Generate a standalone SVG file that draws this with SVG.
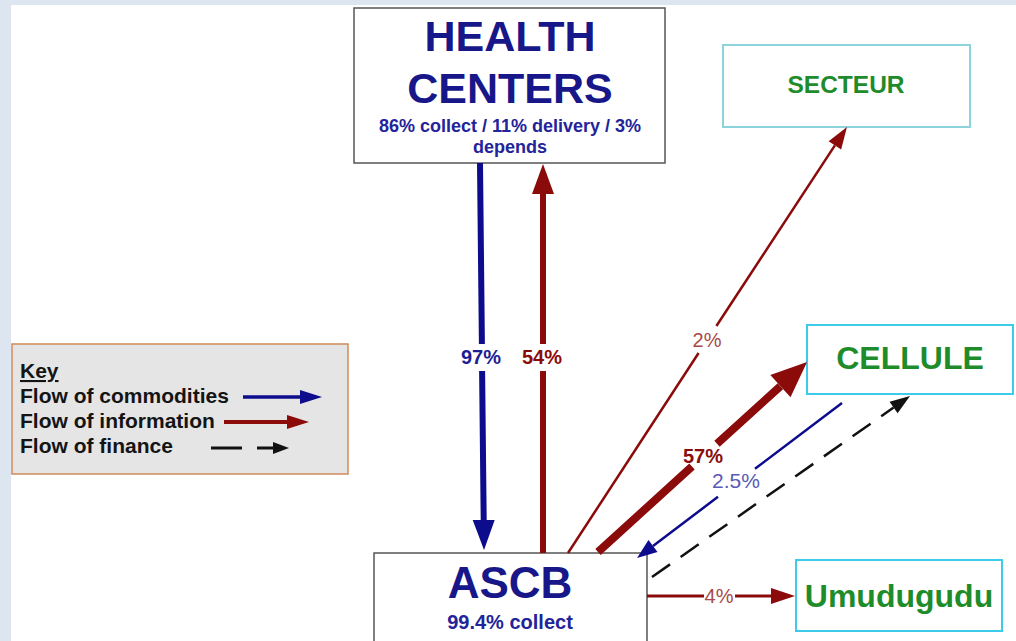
<svg xmlns="http://www.w3.org/2000/svg" width="1016" height="641" viewBox="0 0 1016 641">
  <style>
    text { font-family: "Liberation Sans", Arial, sans-serif; font-weight: bold; }
    .box { fill: #ffffff; stroke: #555555; stroke-width: 1.5; }
    .zone { fill: #ffffff; stroke: #3ccbea; stroke-width: 2; }
    .zone-soft { fill: #ffffff; stroke: #8dd3dc; stroke-width: 2; }
    .title { fill: #17178a; text-anchor: middle; }
    .sub { fill: #23239a; text-anchor: middle; }
    .place { fill: #1f8c2c; text-anchor: middle; }
    .key-text { fill: #141414; font-size: 21px; }
    .goods { stroke: #0c0c8c; fill: none; }
    .info { stroke: #8b0b0b; fill: none; }
    .cash { stroke: #111111; fill: none; }
    .lbl-goods { fill: #1e1e92; text-anchor: middle; font-size: 20px; }
    .lbl-info { fill: #8b0b0b; text-anchor: middle; font-size: 20px; }
    .lbl-info-lt { fill: #a84a4a; text-anchor: middle; font-size: 20px; font-weight: normal; }
    .lbl-goods-lt { fill: #5959b6; text-anchor: middle; font-size: 21px; font-weight: normal; }
  </style>
  <defs>
    <!-- arrowheads start at the path end and extend forward to the tip -->
    <marker id="hBlueL" markerUnits="userSpaceOnUse" viewBox="0 0 30 22" refX="0" refY="11" markerWidth="30" markerHeight="22" orient="auto" overflow="visible">
      <path d="M0,0 L30,11 L0,22 Z" fill="#0c0c8c"/>
    </marker>
    <marker id="hBlueS" markerUnits="userSpaceOnUse" viewBox="0 0 20 15" refX="0" refY="7.5" markerWidth="20" markerHeight="15" orient="auto" overflow="visible">
      <path d="M0,0 L20,7.5 L0,15 Z" fill="#0c0c8c"/>
    </marker>
    <marker id="hBlueK" markerUnits="userSpaceOnUse" viewBox="0 0 22 14" refX="0" refY="7" markerWidth="22" markerHeight="14" orient="auto" overflow="visible">
      <path d="M0,0 L22,7 L0,14 Z" fill="#0c0c8c"/>
    </marker>
    <marker id="hRedL" markerUnits="userSpaceOnUse" viewBox="0 0 30 22" refX="0" refY="11" markerWidth="30" markerHeight="22" orient="auto" overflow="visible">
      <path d="M0,0 L30,11 L0,22 Z" fill="#8b0b0b"/>
    </marker>
    <marker id="hRedXL" markerUnits="userSpaceOnUse" viewBox="0 0 36 30" refX="0" refY="15" markerWidth="36" markerHeight="30" orient="auto" overflow="visible">
      <path d="M0,0 L36,15 L0,30 Z" fill="#8b0b0b"/>
    </marker>
    <marker id="hRedS" markerUnits="userSpaceOnUse" viewBox="0 0 22 15" refX="0" refY="7.5" markerWidth="22" markerHeight="15" orient="auto" overflow="visible">
      <path d="M0,0 L22,7.5 L0,15 Z" fill="#8b0b0b"/>
    </marker>
    <marker id="hRedM" markerUnits="userSpaceOnUse" viewBox="0 0 24 16" refX="0" refY="8" markerWidth="24" markerHeight="16" orient="auto" overflow="visible">
      <path d="M0,0 L24,8 L0,16 Z" fill="#8b0b0b"/>
    </marker>
    <marker id="hRedK" markerUnits="userSpaceOnUse" viewBox="0 0 22 14" refX="0" refY="7" markerWidth="22" markerHeight="14" orient="auto" overflow="visible">
      <path d="M0,0 L22,7 L0,14 Z" fill="#8b0b0b"/>
    </marker>
    <marker id="hBlack" markerUnits="userSpaceOnUse" viewBox="0 0 20 14" refX="0" refY="7" markerWidth="20" markerHeight="14" orient="auto" overflow="visible">
      <path d="M0,0 L20,7 L0,14 Z" fill="#111111"/>
    </marker>
    <marker id="hBlackK" markerUnits="userSpaceOnUse" viewBox="0 0 16 12" refX="0" refY="6" markerWidth="16" markerHeight="12" orient="auto" overflow="visible">
      <path d="M0,0 L16,6 L0,12 Z" fill="#111111"/>
    </marker>
  </defs>

  <!-- page frame -->
  <rect x="0" y="0" width="1016" height="641" fill="#dce5f0"/>
  <rect x="11" y="5" width="1005" height="636" fill="#ffffff"/>

  <g id="health-centers">
    <rect class="box" x="354" y="8" width="311" height="155"/>
    <text class="title" x="510" y="51" font-size="43">HEALTH</text>
    <text class="title" x="510" y="103" font-size="43">CENTERS</text>
    <text class="sub" x="510" y="132" font-size="18">86% collect / 11% delivery / 3%</text>
    <text class="sub" x="510" y="153" font-size="18">depends</text>
  </g>

  <g id="secteur">
    <rect class="zone-soft" x="723" y="45" width="247" height="82"/>
    <text class="place" x="846" y="93" font-size="24.5">SECTEUR</text>
  </g>

  <g id="cellule">
    <rect class="zone" x="807" y="325" width="206" height="69"/>
    <text class="place" x="910" y="369" font-size="32">CELLULE</text>
  </g>

  <g id="umudugudu">
    <rect class="zone" x="796" y="560" width="206" height="71"/>
    <text class="place" x="899" y="607" font-size="32">Umudugudu</text>
  </g>

  <g id="ascb">
    <rect class="box" x="374" y="553" width="273" height="100"/>
    <text class="title" x="510" y="598" font-size="44">ASCB</text>
    <text class="sub" x="510" y="629" font-size="20">99.4% collect</text>
  </g>

  <g id="key">
    <rect x="12" y="344" width="336" height="130" fill="#e5e5e5" stroke="#d08a5a" stroke-width="1.5"/>
    <text class="key-text" x="20" y="378" text-decoration="underline">Key</text>
    <text class="key-text" x="20" y="403">Flow of commodities</text>
    <text class="key-text" x="20" y="428">Flow of information</text>
    <text class="key-text" x="20" y="453">Flow of finance</text>
    <path class="goods" d="M243,397 L300,397" stroke-width="3.5" marker-end="url(#hBlueK)"/>
    <path class="info" d="M224,422 L287,422" stroke-width="4" marker-end="url(#hRedK)"/>
    <path class="cash" d="M211,448 L242,448 M257,448 L273,448" stroke-width="3" marker-end="url(#hBlackK)"/>
  </g>

  <g id="connectors">
    <!-- commodities: health centers to ASCB -->
    <path class="goods" d="M480,163 L481.9,344 M482.1,371 L483.7,520" stroke-width="6" marker-end="url(#hBlueL)"/>
    <text class="lbl-goods" x="481" y="364">97%</text>

    <!-- information: ASCB to health centers -->
    <path class="info" d="M543,553 L543,371 M543,344 L543,194" stroke-width="6" marker-end="url(#hRedL)"/>
    <text class="lbl-info" x="542" y="364">54%</text>

    <!-- information: ASCB to secteur -->
    <path class="info" d="M568,553 L698.6,353 M716.4,326 L834.9,145.4" stroke-width="2.5" marker-end="url(#hRedS)"/>
    <text class="lbl-info-lt" x="707" y="347">2%</text>

    <!-- information: ASCB to cellule -->
    <path class="info" d="M598,552 L692,466.5 M717,443.8 L780.4,386.2" stroke-width="8" marker-end="url(#hRedXL)"/>
    <text class="lbl-info" x="703" y="463">57%</text>

    <!-- commodities: cellule to ASCB -->
    <path class="goods" d="M842,403 L755,468.8 M718,496.8 L653,546" stroke-width="2.5" marker-end="url(#hBlueS)"/>
    <text class="lbl-goods-lt" x="736" y="488">2.5%</text>

    <!-- finance: ASCB to cellule -->
    <path class="cash" d="M652,577 L893.6,407.5" stroke-width="2.5" stroke-dasharray="22 13" marker-end="url(#hBlack)"/>

    <!-- information: ASCB to umudugudu -->
    <path class="info" d="M647,596 L704,596 M735,596 L771,596" stroke-width="3" marker-end="url(#hRedM)"/>
    <text class="lbl-info-lt" x="719" y="603">4%</text>
  </g>
</svg>
